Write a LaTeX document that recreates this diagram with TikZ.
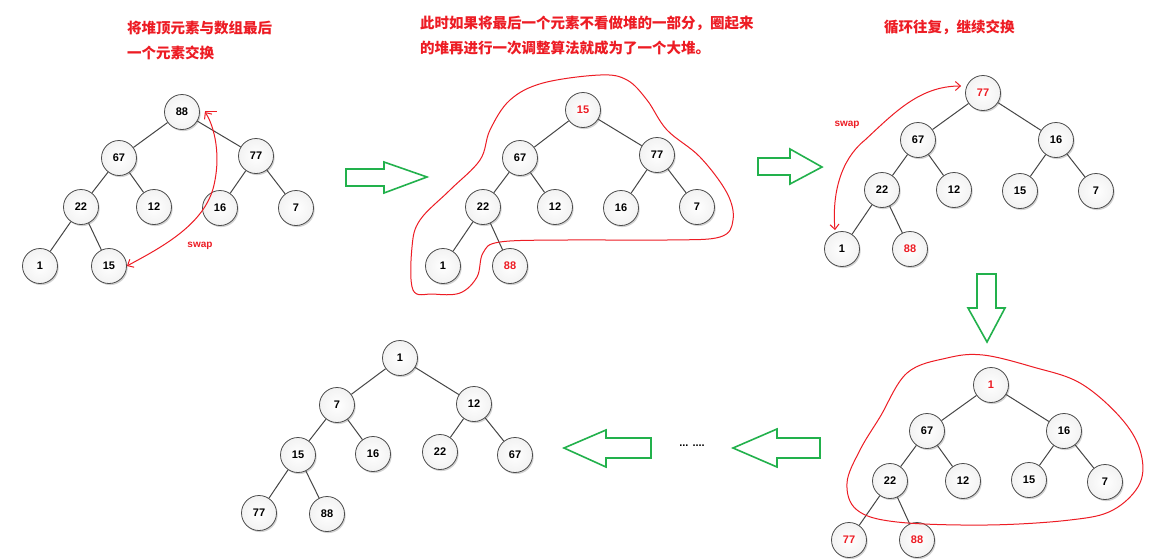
\documentclass[tikz,border=0pt]{standalone}
\usepackage{fontspec}
\setmainfont{Liberation Sans}
\newfontfamily\cjk{Noto Sans CJK SC}
\usetikzlibrary{shadows,arrows.meta}
\definecolor{hred}{RGB}{237,28,36}
\definecolor{hgreen}{RGB}{34,177,76}
\tikzset{
  hnode/.style={circle, draw=gray!60!black, line width=0.8pt, inner color=white, outer color=gray!10,
    minimum size=35pt, inner sep=0pt, font=\fontsize{11}{13}\selectfont\bfseries,
    drop shadow={shadow xshift=1.2pt, shadow yshift=-1.6pt, opacity=0.35}},
  hot/.style={text=hred},
  branch/.style={draw=gray!55!black, line width=1pt},
  note/.style={text=hred, font=\cjk\fontsize{14.5}{17}\selectfont\bfseries, anchor=west, inner sep=0pt},
  ring/.style={hred, line width=1pt},
  swaparrow/.style={hred, line width=1pt, {Straight Barb[length=5pt,width=9pt]}-{Straight Barb[length=5pt,width=9pt]}},
  garrow/.style={draw=hgreen, line width=1.6pt, line join=miter},
}
\begin{document}
\begin{tikzpicture}[x=1pt, y=-1pt]
  \useasboundingbox (0,0) rectangle (1168,558);
  \fill[white] (0,0) rectangle (1168,558);

  % Texts
  \node[note] (t1a) at (127,28) {将堆顶元素与数组最后};
  \node[note] (t1b) at (127,53) {一个元素交换};
  \node[note] (t2a) at (420,23) {此时如果将最后一个元素不看做堆的一部分，圈起来};
  \node[note] (t2b) at (420,48) {的堆再进行一次调整算法就成为了一个大堆。};
  \node[note] (t3) at (884,27) {循环往复，继续交换};

  % Tree 1
  \node[hnode] (a88) at (182,112) {88};
  \node[hnode] (a67) at (119,158) {67};
  \node[hnode] (a77) at (256,156) {77};
  \node[hnode] (a22) at (81,207) {22};
  \node[hnode] (a12) at (154,207) {12};
  \node[hnode] (a16) at (220,208) {16};
  \node[hnode] (a7) at (296,208) {7};
  \node[hnode] (a1) at (40,266) {1};
  \node[hnode] (a15) at (109,266) {15};
  \foreach \p/\c in {a88/a67, a88/a77, a67/a22, a67/a12, a77/a16, a77/a7, a22/a1, a22/a15}
    \draw[branch] (\p) -- (\c);

  % swap in tree 1
  \draw[swaparrow] (a15.east) .. controls (160,248) and (205,225) .. (214,185)
    .. controls (222,150) and (212,122) .. ([xshift=5pt]a88.east);
  \draw[hred, line width=1pt] ([xshift=5pt, yshift=1pt]a88.east) -- ++(12,0);
  \node[text=hred, font=\fontsize{10}{12}\selectfont\bfseries] (s1) at (200,246) {swap};

  % Tree 2
  \node[hnode, hot] (b15) at (583,110) {15};
  \node[hnode] (b67) at (520,158) {67};
  \node[hnode] (b77) at (657,155) {77};
  \node[hnode] (b22) at (483,207) {22};
  \node[hnode] (b12) at (555,207) {12};
  \node[hnode] (b16) at (621,208) {16};
  \node[hnode] (b7) at (697,207) {7};
  \node[hnode] (b1) at (443,266) {1};
  \node[hnode, hot] (b88) at (510,266) {88};
  \foreach \p/\c in {b15/b67, b15/b77, b67/b22, b67/b12, b77/b16, b77/b7, b22/b1, b22/b88}
    \draw[branch] (\p) -- (\c);
  \draw[ring] plot[smooth cycle, tension=0.6] coordinates {
    (413,290) (412,247) (420,220) (450,190) (480,160) (490,130) (510,100)
    (543,83) (600,75) (627,80) (647,100) (667,130) (700,157) (727,193)
    (733,220) (720,237) (667,240) (567,240) (500,242) (483,253) (477,277)
    (460,293) (433,294)};

  % Tree 3
  \node[hnode, hot] (c77) at (983,93) {77};
  \node[hnode] (c67) at (918,140) {67};
  \node[hnode] (c16) at (1056,140) {16};
  \node[hnode] (c22) at (882,190) {22};
  \node[hnode] (c12) at (954,190) {12};
  \node[hnode] (c15) at (1020,191) {15};
  \node[hnode] (c7) at (1096,191) {7};
  \node[hnode] (c1) at (842,249) {1};
  \node[hnode, hot] (c88) at (910,249) {88};
  \foreach \p/\c in {c77/c67, c77/c16, c67/c22, c67/c12, c16/c15, c16/c7, c22/c1, c22/c88}
    \draw[branch] (\p) -- (\c);

  % swap in tree 3
  \draw[swaparrow] ([xshift=-7pt, yshift=1pt]c1.north) .. controls (832,195) and (840,160) .. (865,140)
    .. controls (895,112) and (920,86) .. ([yshift=7pt, xshift=-4pt]c77.west);
  \node[text=hred, font=\fontsize{10}{12}\selectfont\bfseries] (s3) at (847,125) {swap};

  % Tree 4
  \node[hnode, hot] (d1) at (991,385) {1};
  \node[hnode] (d67) at (927,431) {67};
  \node[hnode] (d16) at (1064,431) {16};
  \node[hnode] (d22) at (890,481) {22};
  \node[hnode] (d12) at (963,481) {12};
  \node[hnode] (d15) at (1029,480) {15};
  \node[hnode] (d7) at (1105,482) {7};
  \node[hnode, hot] (d77) at (849,540) {77};
  \node[hnode, hot] (d88) at (917,540) {88};
  \foreach \p/\c in {d1/d67, d1/d16, d67/d22, d67/d12, d16/d15, d16/d7, d22/d77, d22/d88}
    \draw[branch] (\p) -- (\c);
  \draw[ring] plot[smooth cycle, tension=0.6] coordinates {
    (983,355) (947,358) (907,373) (880,417) (860,450) (847,483) (857,510)
    (897,522) (987,525) (1070,520) (1113,510) (1140,483) (1140,450)
    (1120,417) (1080,383) (1033,367)};

  % Tree 5
  \node[hnode] (e1) at (400,358) {1};
  \node[hnode] (e7) at (337,405) {7};
  \node[hnode] (e12) at (474,404) {12};
  \node[hnode] (e15) at (298,455) {15};
  \node[hnode] (e16) at (373,454) {16};
  \node[hnode] (e22) at (440,452) {22};
  \node[hnode] (e67) at (515,455) {67};
  \node[hnode] (e77) at (259,513) {77};
  \node[hnode] (e88) at (327,514) {88};
  \foreach \p/\c in {e1/e7, e1/e12, e7/e15, e7/e16, e12/e22, e12/e67, e15/e77, e15/e88}
    \draw[branch] (\p) -- (\c);

  % Green arrows
  \draw[garrow] (346,169) -- (384,169) -- (384,162) -- (427,177) -- (384,193) -- (384,186) -- (346,186) -- cycle;
  \draw[garrow] (758,158) -- (790,158) -- (790,149) -- (822,167) -- (790,184) -- (790,175) -- (758,175) -- cycle;
  \draw[garrow] (977,274) -- (977,308) -- (968,308) -- (987,342) -- (1005,308) -- (996,308) -- (996,274) -- cycle;
  \draw[garrow] (651,438) -- (606,438) -- (606,430) -- (564,448) -- (606,467) -- (606,458) -- (651,458) -- cycle;
  \draw[garrow] (820,438) -- (777,438) -- (777,429) -- (733,448) -- (777,467) -- (777,458) -- (820,458) -- cycle;
  \node[font=\fontsize{11}{13}\selectfont\bfseries] (dots) at (692,446) {... ....};
\end{tikzpicture}
\end{document}
